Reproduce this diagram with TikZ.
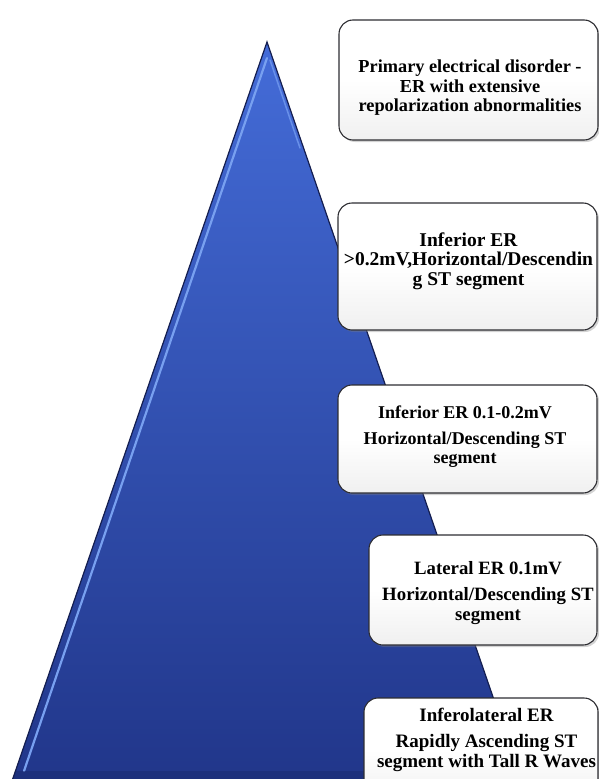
\documentclass[tikz,border=0pt]{standalone}
\usepackage{fontspec}
\setmainfont{Liberation Serif}
\usetikzlibrary{shadows}
\definecolor{pyrtop}{RGB}{68,108,216}
\definecolor{pyrbot}{RGB}{33,54,138}
\definecolor{pyredge}{RGB}{20,30,80}
\definecolor{pyrhi}{RGB}{120,160,240}
\definecolor{boxedge}{RGB}{45,45,50}
\tikzset{
  levelbox/.style={draw=boxedge, line width=1.1pt, rounded corners=14pt,
    top color=white, bottom color=black!6, middle color=white,
    drop shadow={shadow xshift=2pt, shadow yshift=-2pt, opacity=0.35}},
  leveltext/.style 2 args={align=center, font=\fontsize{#1}{#2}\selectfont\bfseries,
    inner sep=0pt, text=black}
}
\begin{document}
\begin{tikzpicture}[x=1pt,y=-1pt]
\useasboundingbox (0,0) rectangle (599,779);

% pyramid
\coordinate (apex) at (267,42);
\coordinate (bl) at (12,781);
\coordinate (br) at (522,781);
\fill[top color=pyrtop, bottom color=pyrbot] (apex) -- (bl) -- (br) -- cycle;
% bevel highlights
\draw[pyrhi, line width=2.2pt, line cap=round] (267,58) -- (24,771);
\draw[pyrhi!70!pyrtop, line width=1.5pt, line cap=round] (270,60) -- (300,148);
\fill[pyrbot!80!black, opacity=0.5] (16,771) -- (519,771) -- (522,781) -- (12,781) -- cycle;
\draw[pyredge, line width=1.2pt] (bl) -- (apex) -- (br);

% level boxes
\node[levelbox, minimum width=259pt, minimum height=120pt] (b1) at (468.5,80) {};
\node[levelbox, minimum width=259pt, minimum height=127pt] (b2) at (467.5,266.5) {};
\node[levelbox, minimum width=259pt, minimum height=108pt] (b3) at (467.5,439) {};
\node[levelbox, minimum width=228pt, minimum height=110pt] (b4) at (483,590) {};
\node[levelbox, minimum width=234pt, minimum height=104pt] (b5) at (481,750) {};

% labels
\node[leveltext={18.3}{19.5}] (t1) at (470,88) {Primary electrical disorder -\\ER with extensive\\repolarization abnormalities};
\node[leveltext={19.5}{19.5}] (t2) at (468.5,261) {Inferior ER\\>0.2mV,Horizontal/Descendin\\g ST segment};
\node[leveltext={18}{19.5}] (t3) at (465,437) {Inferior ER 0.1-0.2mV\\[6pt]Horizontal/Descending ST\\segment};
\node[leveltext={18.8}{20}] (t4) at (488,593) {Lateral ER 0.1mV\\[6pt]Horizontal/Descending ST\\segment};
\node[leveltext={19}{20}] (t5) at (486.5,740) {Inferolateral ER\\[6pt]Rapidly Ascending ST\\segment with Tall R Waves};
\end{tikzpicture}
\end{document}
